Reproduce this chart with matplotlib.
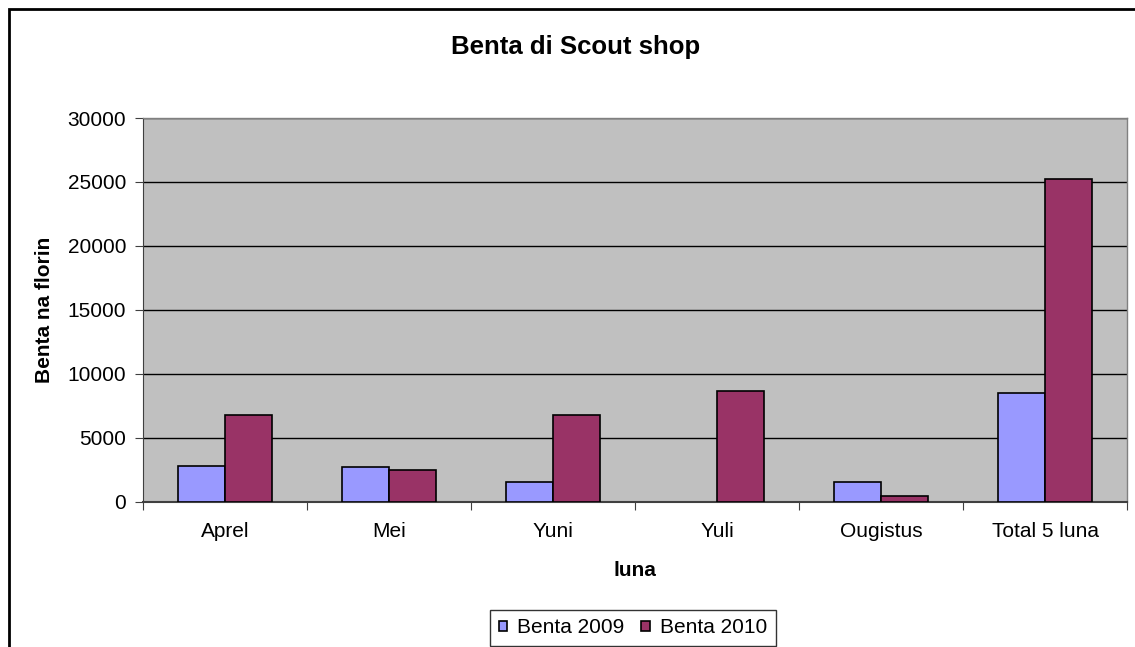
import numpy as np
import matplotlib.pyplot as plt
from matplotlib.patches import Rectangle

plt.rcParams['font.family'] = ['Liberation Sans', 'DejaVu Sans']

luna = ['Aprel', 'Mei', 'Yuni', 'Yuli', 'Ougistus', 'Total 5 luna']
benta_2009 = [2800, 2700, 1500, 0, 1500, 8500]
benta_2010 = [6800, 2450, 6800, 8650, 400, 25200]

W, H = 1135, 647
fig = plt.figure(figsize=(W / 100, H / 100), dpi=100)
ax = fig.add_axes([143 / W, 1 - 501.5 / H, 984 / W, 383.5 / H])

x = np.arange(len(luna))
bw = 1 / 3.5  # gap width 150%
b1 = ax.bar(x - bw / 2, benta_2009, bw, color='#9999FF', edgecolor='black', linewidth=1.2,
            label='Benta 2009', zorder=3)
b2 = ax.bar(x + bw / 2, benta_2010, bw, color='#993366', edgecolor='black', linewidth=1.2,
            label='Benta 2010', zorder=3)
for p in list(b1) + list(b2):
    if p.get_height() == 0:
        p.set_visible(False)

ax.set_facecolor('#C0C0C0')
ax.set_xlim(-0.5, len(luna) - 0.5)
ax.set_ylim(0, 30000)
ax.set_yticks(np.arange(0, 30001, 5000))
ax.yaxis.grid(True, color='black', linewidth=1)
ax.set_axisbelow(True)

ax.set_xticks(np.arange(-0.5, len(luna)), minor=False)
ax.set_xticklabels([])
ax.set_xticks(x, minor=True)
ax.set_xticklabels(luna, minor=True)
ax.tick_params(axis='x', which='major', direction='out', length=6, color='#404040')
ax.tick_params(axis='x', which='minor', length=0, pad=15, labelsize=15)
ax.tick_params(axis='y', direction='out', length=6, color='#404040', labelsize=15, pad=6)

for s in ['top', 'right']:
    ax.spines[s].set_color('#808080')
    ax.spines[s].set_linewidth(1)
ax.spines['left'].set_color('#404040')
ax.spines['bottom'].set_color('#404040')
ax.spines['bottom'].set_linewidth(1.5)

ax.set_xlabel('luna', fontsize=15, fontweight='bold')
ax.xaxis.label.set_va('center')
ax.xaxis.set_label_coords(0.5, (501.5 - 571) / 383.5)
ax.set_ylabel('Benta na florin', fontsize=15, fontweight='bold')
ax.yaxis.label.set_va('center')
ax.yaxis.set_label_coords((45 - 143) / 984, 0.5)
fig.text(576 / W, 1 - 47 / H, 'Benta di Scout shop', ha='center', va='center',
         fontsize=18.5, fontweight='bold')

leg = fig.legend(loc='upper center', bbox_to_anchor=(633 / W, 1 - 610 / H), ncol=2,
                 fontsize=15, frameon=True, fancybox=False, edgecolor='black',
                 handlelength=0.4, handleheight=0.4, handletextpad=0.5,
                 columnspacing=0.8, borderpad=0.4, borderaxespad=0)
leg.get_frame().set_linewidth(1)

fig.patches.append(Rectangle((9 / W, -0.1), 1.2, 1 - 9 / H + 0.1, transform=fig.transFigure,
                             fill=False, edgecolor='black', linewidth=2))

fig.savefig('out.png', dpi=100)
